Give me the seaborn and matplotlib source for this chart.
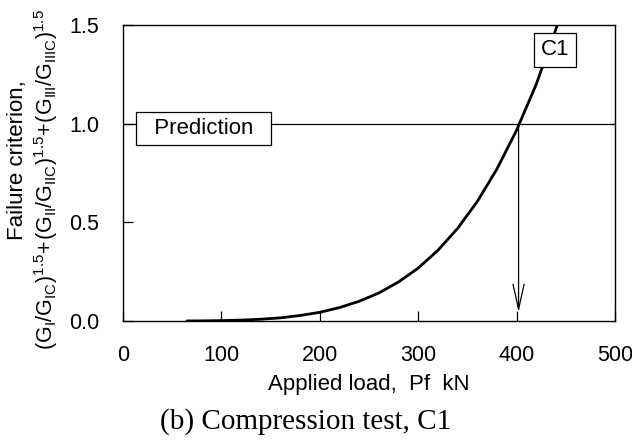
import matplotlib
matplotlib.use("Agg")
import matplotlib.pyplot as plt
import seaborn as sns
import pandas as pd

# Data
load_kN = [65, 80, 100, 120, 140, 160, 180, 200, 220, 240, 260, 280, 300,
           320, 340, 360, 380, 400, 420, 440, 446]
criterion = [0.0003, 0.0007, 0.002, 0.0046, 0.009, 0.016, 0.028, 0.044, 0.068,
             0.10, 0.142, 0.198, 0.268, 0.358, 0.469, 0.605, 0.770, 0.967,
             1.20, 1.48, 1.57]
prediction_level = 1.0
failure_load = 402
x_ticks = [0, 100, 200, 300, 400, 500]
y_ticks = [0.0, 0.5, 1.0, 1.5]

sns.set_theme(style="white")
plt.rcParams["font.family"] = ["Liberation Sans", "DejaVu Sans"]
plt.rcParams["text.color"] = "black"
plt.rcParams["mathtext.fontset"] = "custom"
plt.rcParams["mathtext.rm"] = "Liberation Sans"
plt.rcParams["mathtext.it"] = "Liberation Sans:italic"
plt.rcParams["mathtext.bf"] = "Liberation Sans:bold"

df = pd.DataFrame({"load": load_kN, "crit": criterion})

fig = plt.figure(figsize=(6.32, 4.41), dpi=100)
ax = fig.add_axes([0.1946, 0.2721, 0.7785, 0.6712])

sns.lineplot(data=df, x="load", y="crit", ax=ax, color="black", linewidth=2.0)
ax.axhline(prediction_level, color="black", linewidth=0.9)

ax.annotate("", xy=(failure_load, 0.045), xytext=(failure_load, prediction_level),
            arrowprops=dict(arrowstyle="->,head_length=0.9,head_width=0.2",
                            color="black", lw=0.9, mutation_scale=20,
                            shrinkA=0, shrinkB=0))

ax.text(82, 0.975, "  Prediction  ", ha="center", va="center", fontsize=16,
        bbox=dict(boxstyle="square,pad=0.27", fc="white", ec="black", lw=0.9))
ax.text(439, 1.375, "C1", ha="center", va="center", fontsize=16,
        bbox=dict(boxstyle="square,pad=0.3", fc="white", ec="black", lw=0.9))

ax.set_xlim(0, 500)
ax.set_ylim(0, 1.5)
ax.set_xticks(x_ticks)
ax.set_yticks(y_ticks)
ax.set_xticklabels([str(v) for v in x_ticks])
ax.set_yticklabels([f"{v:.1f}" for v in y_ticks])
ax.tick_params(direction="in", length=7, width=0.9, color="black",
               labelsize=15.5, pad=17, labelcolor="black",
               bottom=True, left=True, top=False, right=False)
for s in ax.spines.values():
    s.set_visible(True)
    s.set_color("black")
    s.set_linewidth(1.0)

ax.set_xlabel("Applied load,  Pf  kN", fontsize=16, labelpad=6, color="black")
ax.set_ylabel("")

fig.text(18 / 632, 1 - 160 / 441, "Failure criterion,", rotation=90,
         ha="center", va="center", fontsize=16, color="black")
fig.text(46 / 632, 1 - 180 / 441,
         r"$(\mathrm{G_{I}/G_{IC}})^{1.5}\!+\!(\mathrm{G_{II}/G_{IIC}})^{1.5}\!+\!(\mathrm{G_{III}/G_{IIIC}})^{1.5}$",
         rotation=90, ha="center", va="center", fontsize=15.5, color="black")

fig.text(306 / 632, 1 - 422 / 441, "(b) Compression test, C1",
         ha="center", va="center", fontsize=21, color="black",
         family=["Liberation Serif", "DejaVu Serif"])

fig.savefig("out.png", dpi=100, facecolor="white")
